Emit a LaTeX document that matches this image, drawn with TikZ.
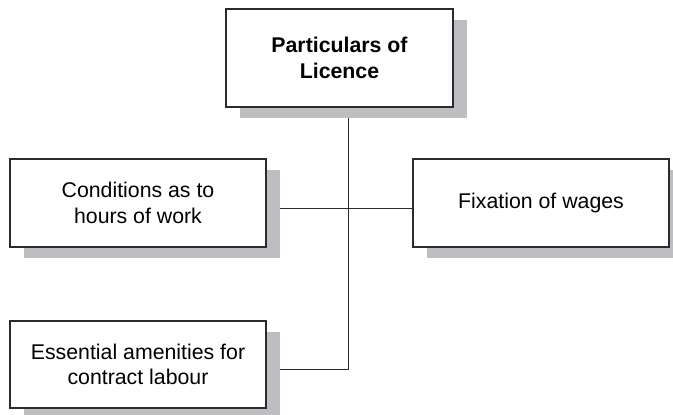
\documentclass[tikz,border=0pt]{standalone}
\usepackage{fontspec}
\setmainfont{Liberation Sans}
\usetikzlibrary{shadows,backgrounds}
\definecolor{shadowgray}{HTML}{BDBEC2}
\definecolor{edgegray}{HTML}{2B2B2B}
\tikzset{
  box/.style={draw=edgegray, line width=1.1pt, fill=white, align=center,
    inner sep=0pt, font=\fontsize{21.3}{25.5}\selectfont,
    drop shadow={shadow xshift=14pt, shadow yshift=-11pt, fill=shadowgray, opacity=1}},
  link/.style={draw=edgegray, line width=1pt}
}
\begin{document}
\begin{tikzpicture}[x=1pt,y=1pt]
  \useasboundingbox (0,0) rectangle (673,-415);
  % boxes
  \node[box, minimum width=227pt, minimum height=98pt, font=\fontsize{21.3}{25.5}\selectfont\bfseries]
    (lic) at (339.5,-58) {Particulars of\\Licence};
  \node[box, minimum width=256pt, minimum height=88pt] (hours) at (138,-203)
    {Conditions as to\\hours of work};
  \node[box, minimum width=256pt, minimum height=88pt] (wages) at (541,-203)
    {Fixation of wages};
  \node[box, minimum width=256pt, minimum height=87pt] (amen) at (138,-364.5)
    {Essential amenities for\\contract labour};
  % junction points of the connectors
  \coordinate (cross) at (348,-208);
  \coordinate (corner) at (348,-369);
  \begin{scope}[on background layer]
    \draw[link] (lic.south -| cross) -- (corner) -- (corner -| amen.east);
    \draw[link] (cross -| hours.east) -- (cross -| wages.west);
  \end{scope}
\end{tikzpicture}
\end{document}
